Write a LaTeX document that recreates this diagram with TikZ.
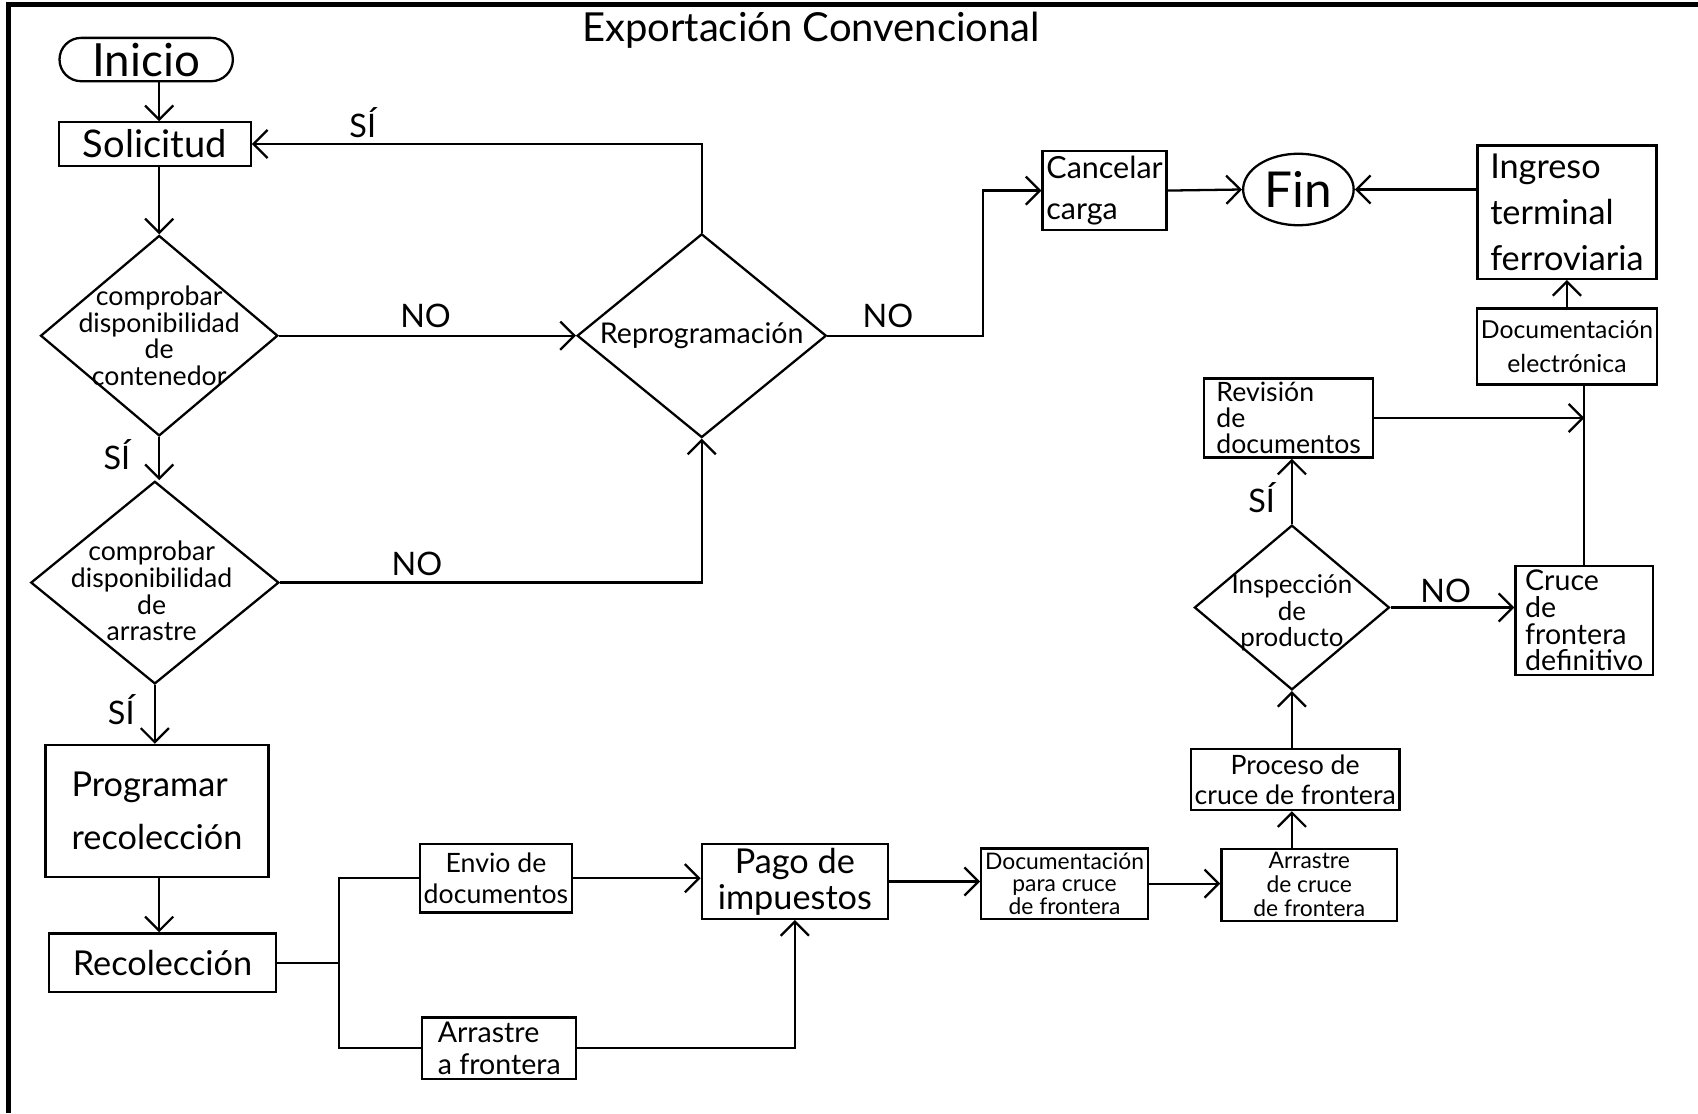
\documentclass[tikz,border=0pt]{standalone}
\usepackage{fontspec}
\setmainfont{Lato}
\usetikzlibrary{shapes.geometric,arrows.meta,positioning,calc}

\tikzset{
  caja/.style={draw, rectangle, line width=0.6pt, inner xsep=1pt, inner ysep=1pt, align=center},
  decision/.style={draw, diamond, line width=0.6pt, inner sep=0pt},
  flecha/.style={-{Straight Barb[length=1.3mm,width=2.6mm]}, line width=0.6pt},
  linea/.style={line width=0.6pt},
  etiqueta/.style={font=\fontsize{8.5}{10}\selectfont}
}

\begin{document}
\begin{tikzpicture}[x=0.01cm, y=-0.01cm]
\useasboundingbox (0,0) rectangle (1568,1028);
\draw[line width=1.2pt] (1568,4) -- (8,4) -- (8,1028);
\node[font=\fontsize{10.5}{12}\selectfont] (titulo) at (749,28) {Exportación Convencional};

% columna izquierda
\node[caja, rounded corners=0.2cm, inner sep=0pt, minimum width=1.6cm, minimum height=0.4cm, font=\fontsize{12}{12}\selectfont] (inicio) at (135,55) {Inicio};
\node[caja, minimum width=1.77cm, minimum height=0.4cm, font=\fontsize{10}{10}\selectfont] (solicitud) at (143,133) {Solicitud};
\node[decision, minimum width=2.19cm, minimum height=1.85cm] (dA) at (147,310) {};
\node[align=center, font=\fontsize{7}{7}\selectfont] (tA) at (dA) {comprobar\\disponibilidad\\de\\contenedor};
\node[decision, minimum width=2.29cm, minimum height=1.87cm] (dB) at (143,538) {};
\node[align=center, font=\fontsize{7}{7}\selectfont] (tB) at (140,546) {comprobar\\disponibilidad\\de\\arrastre};
\node[caja, align=left, minimum width=2.06cm, minimum height=1.22cm, font=\fontsize{9}{14}\selectfont] (programar) at (145,749) {Programar\\recolección};
\node[caja, minimum width=2.1cm, minimum height=0.54cm, font=\fontsize{9}{9}\selectfont] (recoleccion) at (150,889) {Recolección};

% reprogramacion
\node[decision, minimum width=2.3cm, minimum height=1.88cm] (reprog) at (648,310) {};
\node[font=\fontsize{7.5}{8}\selectfont] (tR) at (reprog) {Reprogramación};
\node[caja, align=left, minimum width=1.1cm, minimum height=0.73cm, font=\fontsize{8}{11}\selectfont] (cancelar) at (1020,176) {Cancelar\\carga};
\node[draw, ellipse, line width=0.6pt, inner sep=0pt, minimum width=1.02cm, minimum height=0.66cm, font=\fontsize{13}{13}\selectfont] (fin) at (1199,175) {Fin};

% fila inferior
\node[caja, minimum width=1.4cm, minimum height=0.63cm, font=\fontsize{7}{8}\selectfont] (envio) at (458,811) {Envio de\\documentos};
\node[caja, align=left, minimum width=1.42cm, minimum height=0.57cm, font=\fontsize{7.5}{8.5}\selectfont] (arrastreA) at (461,968) {Arrastre\\a frontera};
\node[caja, minimum width=1.72cm, minimum height=0.68cm, font=\fontsize{9}{9.5}\selectfont] (pago) at (734,814) {Pago de\\impuestos};
\node[caja, minimum width=1.53cm, minimum height=0.63cm, font=\fontsize{6}{6}\selectfont] (docCruce) at (983,816) {Documentación\\para cruce\\de frontera};
\node[caja, minimum width=1.62cm, minimum height=0.61cm, font=\fontsize{6}{6.3}\selectfont] (arrastreCruce) at (1209,817) {Arrastre\\de cruce\\de frontera};

% columna derecha
\node[caja, minimum width=1.71cm, minimum height=0.56cm, font=\fontsize{7}{8}\selectfont] (proceso) at (1196,720) {Proceso de\\cruce de frontera};
\node[decision, minimum width=1.8cm, minimum height=1.52cm] (inspeccion) at (1193,561) {};
\node[align=center, font=\fontsize{6.8}{7}\selectfont] (tI) at (1193,566) {Inspección\\de\\producto};
\node[caja, align=left, minimum width=1.56cm, minimum height=0.68cm, font=\fontsize{7}{6.8}\selectfont] (revision) at (1190,386) {Revisión\\de\\documentos};
\node[caja, align=left, minimum width=1.27cm, minimum height=0.97cm, font=\fontsize{7.5}{7}\selectfont] (cruceDef) at (1463,573) {Cruce\\de\\frontera\\definitivo};
\node[caja, minimum width=1.65cm, minimum height=0.7cm, font=\fontsize{6.5}{9}\selectfont] (docElec) at (1447,320) {Documentación\\electrónica};
\node[caja, align=left, minimum width=1.65cm, minimum height=1.23cm, font=\fontsize{9}{12}\selectfont] (ingreso) at (1447,196) {Ingreso\\terminal\\ferroviaria};

% etiquetas
\node[etiqueta] (siA) at (335,113) {SÍ};
\node[etiqueta] (noA) at (393,292) {NO};
\node[etiqueta] (siB) at (108,420) {SÍ};
\node[etiqueta] (noB) at (385,521) {NO};
\node[etiqueta] (siC) at (112,655) {SÍ};
\node[etiqueta] (noC) at (820,292) {NO};
\node[etiqueta] (siD) at (1165,460) {SÍ};
\node[etiqueta] (noD) at (1335,546) {NO};

\coordinate (codo) at (908,310);
\coordinate (rama) at (313,889);

% conectores
\draw[flecha] (inicio.south -| dA.north) -- (solicitud.north -| dA.north);
\draw[flecha] (solicitud.south -| dA.north) -- (dA.north);
\draw[flecha] (dA.east) -- (reprog.west);
\draw[flecha] (reprog.north) |- (solicitud.east);
\draw[flecha] (dA.south) -- (dA.south |- dB.north);
\draw[flecha] (dB.east) -| (reprog.south);
\draw[flecha] (dB.south) -- (dB.south |- programar.north);
\draw[flecha] (programar.south -| dA.south) -- (recoleccion.north -| dA.south);
\draw[flecha] (reprog.east) -- (codo) |- (cancelar.west);
\draw[flecha] (cancelar.east) -- (fin.west);
\draw[flecha] (ingreso.west |- fin.east) -- (fin.east);
\draw[linea] (recoleccion.east) -- (rama);
\draw[linea] (rama) |- (envio.west);
\draw[linea] (rama) |- (arrastreA.west);
\draw[flecha] (envio.east) -- (envio.east -| pago.west);
\draw[flecha] (arrastreA.east) -| (pago.south);
\draw[flecha] (pago.east) -- (pago.east -| docCruce.west);
\draw[flecha] (docCruce.east) -- (docCruce.east -| arrastreCruce.west);
\draw[flecha] (arrastreCruce.north -| inspeccion.south) -- (proceso.south -| inspeccion.south);
\draw[flecha] (proceso.north -| inspeccion.south) -- (inspeccion.south);
\draw[flecha] (inspeccion.north) -- (revision.south -| inspeccion.north);
\draw[flecha] (inspeccion.east) -- (inspeccion.east -| cruceDef.west);
\draw[linea] (cruceDef.north) -- (cruceDef.north |- docElec.south);
\draw[flecha] (revision.east) -- (revision.east -| cruceDef.north);
\draw[flecha] (docElec.north) -- (ingreso.south);
\end{tikzpicture}
\end{document}
